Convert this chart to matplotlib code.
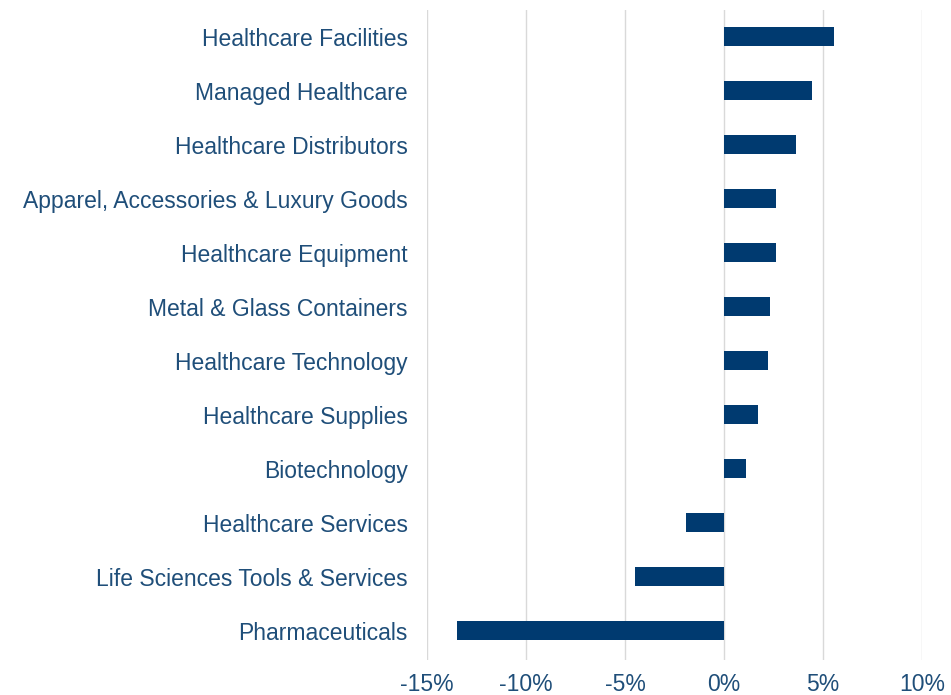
import matplotlib
matplotlib.use("Agg")
import matplotlib.pyplot as plt
from matplotlib.ticker import FuncFormatter

plt.rcParams['font.family'] = ['Liberation Sans', 'DejaVu Sans']

categories = [
    'Healthcare Facilities',
    'Managed Healthcare',
    'Healthcare Distributors',
    'Apparel, Accessories & Luxury Goods',
    'Healthcare Equipment',
    'Metal & Glass Containers',
    'Healthcare Technology',
    'Healthcare Supplies',
    'Biotechnology',
    'Healthcare Services',
    'Life Sciences Tools & Services',
    'Pharmaceuticals',
]
values = [5.57, 4.45, 3.64, 2.63, 2.63, 2.33, 2.23, 1.73, 1.12, -1.9, -4.5, -13.5]
xticks = [-15, -10, -5, 0, 5, 10]

text_color = '#1f4e79'
bar_color = '#003a70'

fig = plt.figure(figsize=(9.51, 6.95), dpi=100)
ax = fig.add_axes([0.449, 0.050, 0.5205, 0.936])

pos = list(range(len(categories)))[::-1]
ax.barh(pos, values, height=0.35, color=bar_color, zorder=3)

ax.set_xlim(-15, 10)
ax.set_ylim(-0.55, 11.5)
ax.set_xticks(xticks)
ax.xaxis.set_major_formatter(FuncFormatter(lambda v, p: f'{v:.0f}%'))
ax.set_yticks(pos)
ax.set_yticklabels(categories)
ax.grid(axis='x', color='#d9d9d9', linewidth=1, zorder=0)
for s in ax.spines.values():
    s.set_visible(False)
ax.tick_params(axis='both', length=0, labelsize=16.5, labelcolor=text_color)
ax.tick_params(axis='y', pad=14)
ax.tick_params(axis='x', pad=9)

fig.savefig('out.png', dpi=100)
